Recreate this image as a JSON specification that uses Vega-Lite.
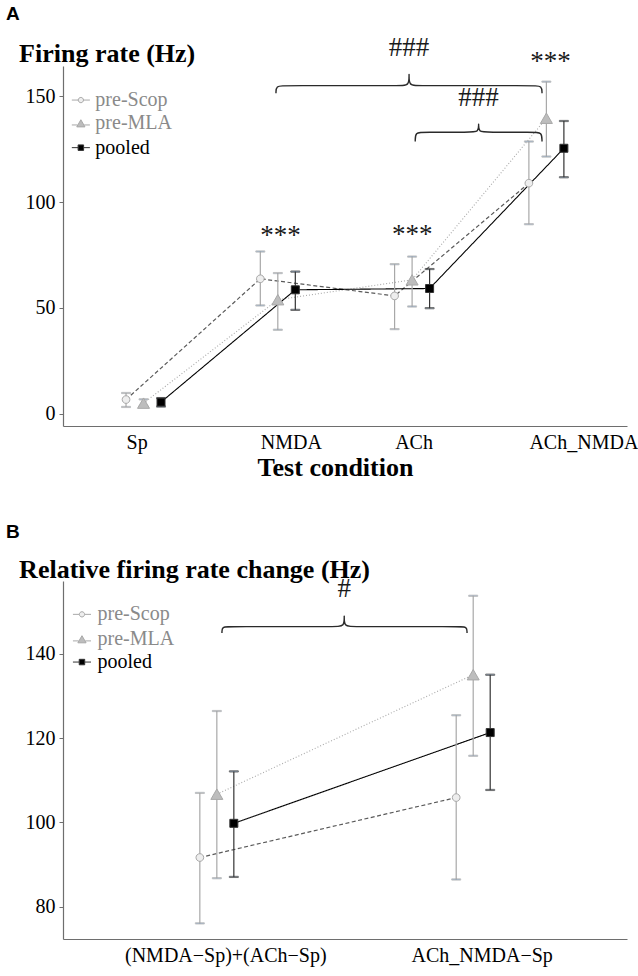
{
  "$schema": "https://vega.github.io/schema/vega-lite/v6.json",
  "background": "white",
  "padding": {"left": 6, "top": 5, "right": 5, "bottom": 5},
  "spacing": 42,
  "resolve": {
    "scale": {"xOffset": "independent", "shape": "independent", "fill": "independent", "stroke": "independent", "color": "independent", "strokeDash": "independent", "strokeWidth": "independent"}
  },
  "config": {
    "font": "Liberation Serif",
    "view": {"stroke": null},
    "axis": {
      "grid": false,
      "domainColor": "#6e6e6e",
      "domainWidth": 1.2,
      "tickColor": "#6e6e6e",
      "tickSize": 4,
      "labelFont": "Liberation Serif",
      "labelFontSize": 20,
      "labelColor": "#000000",
      "labelLimit": 0,
      "titleFont": "Liberation Serif",
      "titleFontSize": 26,
      "titleFontWeight": "bold",
      "titleColor": "#000000"
    },
    "title": {"font": "Liberation Sans", "fontSize": 19, "fontWeight": "bold", "color": "#000000", "anchor": "start", "frame": "group"}
  },
  "vconcat": [
    {
      "width": 564,
      "height": 360,
      "title": {"text": "A", "dx": -57, "offset": 10},
      "resolve": {"scale": {"x": "independent", "shape": "independent"}},
      "layer": [
        {
          "data": {"values": [
            {"cond": "Sp", "series": "pre-Scop", "m": 6.7, "lo": 3.2, "hi": 9.8},
            {"cond": "Sp", "series": "pre-MLA", "m": 5.0, "lo": 3.5, "hi": 6.8},
            {"cond": "Sp", "series": "pooled", "m": 5.5, "lo": 3.4, "hi": 7.4},
            {"cond": "NMDA", "series": "pre-Scop", "m": 63.8, "lo": 51.2, "hi": 76.7},
            {"cond": "NMDA", "series": "pre-MLA", "m": 53.9, "lo": 39.7, "hi": 66.5},
            {"cond": "NMDA", "series": "pooled", "m": 58.6, "lo": 49.1, "hi": 67.2},
            {"cond": "ACh", "series": "pre-Scop", "m": 55.7, "lo": 40.0, "hi": 70.7},
            {"cond": "ACh", "series": "pre-MLA", "m": 63.3, "lo": 50.7, "hi": 74.3},
            {"cond": "ACh", "series": "pooled", "m": 59.2, "lo": 49.9, "hi": 68.4},
            {"cond": "ACh_NMDA", "series": "pre-Scop", "m": 109.0, "lo": 89.6, "hi": 128.7},
            {"cond": "ACh_NMDA", "series": "pre-MLA", "m": 139.7, "lo": 121.6, "hi": 157.0},
            {"cond": "ACh_NMDA", "series": "pooled", "m": 125.5, "lo": 111.8, "hi": 138.4}
          ]},
          "encoding": {
            "x": {
              "field": "cond", "type": "nominal",
              "sort": ["Sp", "NMDA", "ACh", "ACh_NMDA"],
              "scale": {"type": "band", "paddingInner": 0, "paddingOuter": 0.1},
              "axis": {"title": "Test condition", "ticks": false, "labelAngle": 0, "labelAlign": "left", "labelOffset": -17, "labelPadding": 6, "titlePadding": 2, "titleX": 272, "titleAlign": "center"}
            },
            "xOffset": {
              "field": "series", "type": "nominal",
              "sort": ["pre-Scop", "pre-MLA", "pooled"],
              "scale": {"type": "point", "range": [49.6, 84.6], "padding": 0}
            }
          },
          "layer": [
            {
              "mark": {"type": "line"},
              "encoding": {
                "y": {
                  "field": "m", "type": "quantitative",
                  "scale": {"domain": [-5.8, 164.4], "nice": false, "zero": false},
                  "axis": {"values": [0, 50, 100, 150], "title": "Firing rate (Hz)", "titleAngle": 0, "titleAlign": "left", "titleBaseline": "alphabetic", "titleX": -44.4, "titleY": -4.4, "labelPadding": 4}
                },
                "color": {"field": "series", "type": "nominal", "scale": {"domain": ["pre-Scop", "pre-MLA", "pooled"], "range": ["#5a5a5a", "#ababab", "#000000"]}, "legend": null},
                "strokeDash": {"field": "series", "type": "nominal", "scale": {"domain": ["pre-Scop", "pre-MLA", "pooled"], "range": [[4, 2.5], [1, 2], [1, 0]]}, "legend": null},
                "strokeWidth": {"field": "series", "type": "nominal", "scale": {"domain": ["pre-Scop", "pre-MLA", "pooled"], "range": [1.2, 1.1, 1.6]}, "legend": null}
              }
            },
            {
              "mark": {"type": "rule", "strokeWidth": 1.2},
              "encoding": {
                "y": {"field": "lo", "type": "quantitative", "scale": {"domain": [-5.8, 164.4], "nice": false, "zero": false}},
                "y2": {"field": "hi"},
                "stroke": {"field": "series", "type": "nominal", "scale": {"domain": ["pre-Scop", "pre-MLA", "pooled"], "range": ["#a8a8a8", "#a8a8a8", "#333333"]}, "legend": null}
              }
            },
            {
              "mark": {"type": "tick", "size": 9, "thickness": 1.2},
              "encoding": {
                "y": {"field": "lo", "type": "quantitative", "scale": {"domain": [-5.8, 164.4], "nice": false, "zero": false}},
                "stroke": {"field": "series", "type": "nominal", "legend": null}
              }
            },
            {
              "mark": {"type": "tick", "size": 9, "thickness": 1.2},
              "encoding": {
                "y": {"field": "hi", "type": "quantitative", "scale": {"domain": [-5.8, 164.4], "nice": false, "zero": false}},
                "stroke": {"field": "series", "type": "nominal", "legend": null}
              }
            },
            {
              "mark": {"type": "point", "filled": false, "opacity": 1, "strokeWidth": 1, "size": 64},
              "encoding": {
                "y": {"field": "m", "type": "quantitative", "scale": {"domain": [-5.8, 164.4], "nice": false, "zero": false}},
                "shape": {"field": "series", "type": "nominal", "legend": null,
                  "scale": {"domain": ["pre-Scop", "pre-MLA", "pooled"], "range": ["M-0.96,0A0.96,0.96 0 1,0 0.96,0A0.96,0.96 0 1,0 -0.96,0Z", "M0,-1.3L1.5,1.3L-1.5,1.3Z", "M-1,-1L1,-1L1,1L-1,1Z"]}},
                "fill": {"field": "series", "type": "nominal", "legend": null, "scale": {"domain": ["pre-Scop", "pre-MLA", "pooled"], "range": ["#eeeeee", "#bdbdbd", "#000000"]}},
                "stroke": {"field": "series", "type": "nominal", "legend": null}
              }
            }
          ]
        },
        {
          "layer": [
            {
              "data": {"values": [
                {"brace": "big", "ord": 1, "bx": 1.986, "by": 151.5},
                {"brace": "big", "ord": 2, "bx": 1.986, "by": 155.1},
                {"brace": "big", "ord": 3, "bx": 2.05, "by": 155.1},
                {"brace": "big", "ord": 4, "bx": 2.915, "by": 155.1},
                {"brace": "big", "ord": 5, "bx": 2.977, "by": 155.1},
                {"brace": "big", "ord": 6, "bx": 2.977, "by": 160.6},
                {"brace": "big", "ord": 7, "bx": 2.977, "by": 160.6},
                {"brace": "big", "ord": 8, "bx": 2.977, "by": 155.1},
                {"brace": "big", "ord": 9, "bx": 3.04, "by": 155.1},
                {"brace": "big", "ord": 10, "bx": 3.905, "by": 155.1},
                {"brace": "big", "ord": 11, "bx": 3.967, "by": 155.1},
                {"brace": "big", "ord": 12, "bx": 3.967, "by": 151.5},
                {"brace": "small", "ord": 1, "bx": 3.023, "by": 128.7},
                {"brace": "small", "ord": 2, "bx": 3.023, "by": 133.1},
                {"brace": "small", "ord": 3, "bx": 3.085, "by": 133.1},
                {"brace": "small", "ord": 4, "bx": 3.435, "by": 133.1},
                {"brace": "small", "ord": 5, "bx": 3.495, "by": 133.1},
                {"brace": "small", "ord": 6, "bx": 3.495, "by": 137.0},
                {"brace": "small", "ord": 7, "bx": 3.495, "by": 137.0},
                {"brace": "small", "ord": 8, "bx": 3.495, "by": 133.1},
                {"brace": "small", "ord": 9, "bx": 3.555, "by": 133.1},
                {"brace": "small", "ord": 10, "bx": 3.905, "by": 133.1},
                {"brace": "small", "ord": 11, "bx": 3.967, "by": 133.1},
                {"brace": "small", "ord": 12, "bx": 3.967, "by": 128.7}
              ]},
              "mark": {"type": "line", "interpolate": "basis", "color": "#2a2a2a", "strokeWidth": 1.4},
              "encoding": {
                "x": {"field": "bx", "type": "quantitative", "scale": {"domain": [0.4, 4.6], "nice": false, "zero": false}, "axis": null},
                "y": {"field": "by", "type": "quantitative", "scale": {"domain": [-5.8, 164.4], "nice": false, "zero": false}},
                "detail": {"field": "brace"},
                "order": {"field": "ord", "type": "quantitative"}
              }
            },
            {
              "data": {"values": [
                {"label": "###", "bx": 2.977, "by": 172.7},
                {"label": "###", "bx": 3.495, "by": 149.1},
                {"label": "***", "bx": 2.02, "by": 84.1},
                {"label": "***", "bx": 3.0, "by": 84.6},
                {"label": "***", "bx": 4.03, "by": 166.5}
              ]},
              "mark": {"type": "text", "font": "Liberation Serif", "fontSize": 27, "baseline": "middle", "align": "center", "color": "#1a1a1a"},
              "encoding": {
                "x": {"field": "bx", "type": "quantitative", "scale": {"domain": [0.4, 4.6], "nice": false, "zero": false}, "axis": null},
                "y": {"field": "by", "type": "quantitative", "scale": {"domain": [-5.8, 164.4], "nice": false, "zero": false}},
                "text": {"field": "label"}
              }
            },
            {
              "data": {"values": [
                {"series": "pre-Scop", "lx": 0.533, "ly": 148.3},
                {"series": "pre-MLA", "lx": 0.533, "ly": 137.3},
                {"series": "pooled", "lx": 0.533, "ly": 125.8}
              ]},
              "layer": [
                {
                  "mark": {"type": "point", "filled": false, "opacity": 1, "strokeWidth": 1, "size": 30},
                  "encoding": {
                    "x": {"field": "lx", "type": "quantitative", "scale": {"domain": [0.4, 4.6], "nice": false, "zero": false}, "axis": null},
                    "y": {"field": "ly", "type": "quantitative", "scale": {"domain": [-5.8, 164.4], "nice": false, "zero": false}},
                    "shape": {"field": "series", "type": "nominal", "legend": null,
                      "scale": {"domain": ["pre-Scop", "pre-MLA", "pooled"], "range": ["M-3.3,0H-1M1,0H3.3M-0.96,0A0.96,0.96 0 1,0 0.96,0A0.96,0.96 0 1,0 -0.96,0Z", "M-3.3,0.6H-1.2M1.2,0.6H3.3M0,-1.3L1.5,1.3L-1.5,1.3Z", "M-3.3,0H-1M1,0H3.3M-1,-1L1,-1L1,1L-1,1Z"]}},
                    "fill": {"field": "series", "type": "nominal", "legend": null},
                    "stroke": {"field": "series", "type": "nominal", "legend": null}
                  }
                },
                {
                  "mark": {"type": "text", "font": "Liberation Serif", "fontSize": 20, "baseline": "middle", "align": "left", "dx": 14.5},
                  "encoding": {
                    "x": {"field": "lx", "type": "quantitative", "scale": {"domain": [0.4, 4.6], "nice": false, "zero": false}, "axis": null},
                    "y": {"field": "ly", "type": "quantitative", "scale": {"domain": [-5.8, 164.4], "nice": false, "zero": false}},
                    "text": {"field": "series"},
                    "color": {"condition": {"test": "datum.series === 'pooled'", "value": "#000000"}, "value": "#8a8a8a"}
                  }
                }
              ]
            }
          ]
        }
      ]
    },
    {
      "width": 564,
      "height": 358,
      "title": {"text": "B", "dx": -57, "offset": 15},
      "resolve": {"scale": {"x": "independent", "shape": "independent"}},
      "layer": [
        {
          "data": {"values": [
            {"cond": "(NMDA−Sp)+(ACh−Sp)", "series": "pre-Scop", "m": 91.7, "lo": 76.1, "hi": 107.0},
            {"cond": "(NMDA−Sp)+(ACh−Sp)", "series": "pre-MLA", "m": 106.7, "lo": 86.8, "hi": 126.4},
            {"cond": "(NMDA−Sp)+(ACh−Sp)", "series": "pooled", "m": 99.8, "lo": 87.1, "hi": 112.1},
            {"cond": "ACh_NMDA−Sp", "series": "pre-Scop", "m": 105.9, "lo": 86.5, "hi": 125.4},
            {"cond": "ACh_NMDA−Sp", "series": "pre-MLA", "m": 135.0, "lo": 115.8, "hi": 153.7},
            {"cond": "ACh_NMDA−Sp", "series": "pooled", "m": 121.3, "lo": 107.7, "hi": 135.0}
          ]},
          "encoding": {
            "x": {
              "field": "cond", "type": "nominal",
              "sort": ["(NMDA−Sp)+(ACh−Sp)", "ACh_NMDA−Sp"],
              "scale": {"type": "band", "paddingInner": 0, "paddingOuter": 0.1},
              "axis": {"title": null, "ticks": false, "labelAngle": 0, "labelAlign": "center", "labelOffset": 9, "labelPadding": 6}
            },
            "xOffset": {
              "field": "series", "type": "nominal",
              "sort": ["pre-Scop", "pre-MLA", "pooled"],
              "scale": {"type": "point", "range": [111.2, 145.2], "padding": 0}
            }
          },
          "layer": [
            {
              "mark": {"type": "line"},
              "encoding": {
                "y": {
                  "field": "m", "type": "quantitative",
                  "scale": {"domain": [72.4, 157.2], "nice": false, "zero": false},
                  "axis": {"values": [80, 100, 120, 140], "title": "Relative firing rate change (Hz)", "titleAngle": 0, "titleAlign": "left", "titleBaseline": "alphabetic", "titleX": -44.4, "titleY": -3.5, "labelPadding": 4}
                },
                "color": {"field": "series", "type": "nominal", "scale": {"domain": ["pre-Scop", "pre-MLA", "pooled"], "range": ["#5a5a5a", "#ababab", "#000000"]}, "legend": null},
                "strokeDash": {"field": "series", "type": "nominal", "scale": {"domain": ["pre-Scop", "pre-MLA", "pooled"], "range": [[4, 2.5], [1, 2], [1, 0]]}, "legend": null},
                "strokeWidth": {"field": "series", "type": "nominal", "scale": {"domain": ["pre-Scop", "pre-MLA", "pooled"], "range": [1.2, 1.1, 1.6]}, "legend": null}
              }
            },
            {
              "mark": {"type": "rule", "strokeWidth": 1.2},
              "encoding": {
                "y": {"field": "lo", "type": "quantitative", "scale": {"domain": [72.4, 157.2], "nice": false, "zero": false}},
                "y2": {"field": "hi"},
                "stroke": {"field": "series", "type": "nominal", "scale": {"domain": ["pre-Scop", "pre-MLA", "pooled"], "range": ["#a8a8a8", "#a8a8a8", "#333333"]}, "legend": null}
              }
            },
            {
              "mark": {"type": "tick", "size": 9, "thickness": 1.2},
              "encoding": {
                "y": {"field": "lo", "type": "quantitative", "scale": {"domain": [72.4, 157.2], "nice": false, "zero": false}},
                "stroke": {"field": "series", "type": "nominal", "legend": null}
              }
            },
            {
              "mark": {"type": "tick", "size": 9, "thickness": 1.2},
              "encoding": {
                "y": {"field": "hi", "type": "quantitative", "scale": {"domain": [72.4, 157.2], "nice": false, "zero": false}},
                "stroke": {"field": "series", "type": "nominal", "legend": null}
              }
            },
            {
              "mark": {"type": "point", "filled": false, "opacity": 1, "strokeWidth": 1, "size": 64},
              "encoding": {
                "y": {"field": "m", "type": "quantitative", "scale": {"domain": [72.4, 157.2], "nice": false, "zero": false}},
                "shape": {"field": "series", "type": "nominal", "legend": null,
                  "scale": {"domain": ["pre-Scop", "pre-MLA", "pooled"], "range": ["M-0.96,0A0.96,0.96 0 1,0 0.96,0A0.96,0.96 0 1,0 -0.96,0Z", "M0,-1.3L1.5,1.3L-1.5,1.3Z", "M-1,-1L1,-1L1,1L-1,1Z"]}},
                "fill": {"field": "series", "type": "nominal", "legend": null, "scale": {"domain": ["pre-Scop", "pre-MLA", "pooled"], "range": ["#eeeeee", "#bdbdbd", "#000000"]}},
                "stroke": {"field": "series", "type": "nominal", "legend": null}
              }
            }
          ]
        },
        {
          "layer": [
            {
              "data": {"values": [
                {"brace": "b", "ord": 1, "bx": 1.02, "by": 144.9},
                {"brace": "b", "ord": 2, "bx": 1.02, "by": 146.4},
                {"brace": "b", "ord": 3, "bx": 1.051, "by": 146.4},
                {"brace": "b", "ord": 4, "bx": 1.466, "by": 146.4},
                {"brace": "b", "ord": 5, "bx": 1.497, "by": 146.4},
                {"brace": "b", "ord": 6, "bx": 1.497, "by": 149.0},
                {"brace": "b", "ord": 7, "bx": 1.497, "by": 149.0},
                {"brace": "b", "ord": 8, "bx": 1.497, "by": 146.4},
                {"brace": "b", "ord": 9, "bx": 1.528, "by": 146.4},
                {"brace": "b", "ord": 10, "bx": 1.945, "by": 146.4},
                {"brace": "b", "ord": 11, "bx": 1.976, "by": 146.4},
                {"brace": "b", "ord": 12, "bx": 1.976, "by": 144.9}
              ]},
              "mark": {"type": "line", "interpolate": "basis", "color": "#2a2a2a", "strokeWidth": 1.4},
              "encoding": {
                "x": {"field": "bx", "type": "quantitative", "scale": {"domain": [0.4, 2.6], "nice": false, "zero": false}, "axis": null},
                "y": {"field": "by", "type": "quantitative", "scale": {"domain": [72.4, 157.2], "nice": false, "zero": false}},
                "detail": {"field": "brace"},
                "order": {"field": "ord", "type": "quantitative"}
              }
            },
            {
              "data": {"values": [
                {"label": "#", "bx": 1.497, "by": 155.3}
              ]},
              "mark": {"type": "text", "font": "Liberation Serif", "fontSize": 27, "baseline": "middle", "align": "center", "color": "#1a1a1a"},
              "encoding": {
                "x": {"field": "bx", "type": "quantitative", "scale": {"domain": [0.4, 2.6], "nice": false, "zero": false}, "axis": null},
                "y": {"field": "by", "type": "quantitative", "scale": {"domain": [72.4, 157.2], "nice": false, "zero": false}},
                "text": {"field": "label"}
              }
            },
            {
              "data": {"values": [
                {"series": "pre-Scop", "lx": 0.474, "ly": 149.3},
                {"series": "pre-MLA", "lx": 0.474, "ly": 143.4},
                {"series": "pooled", "lx": 0.474, "ly": 138.0}
              ]},
              "layer": [
                {
                  "mark": {"type": "point", "filled": false, "opacity": 1, "strokeWidth": 1, "size": 30},
                  "encoding": {
                    "x": {"field": "lx", "type": "quantitative", "scale": {"domain": [0.4, 2.6], "nice": false, "zero": false}, "axis": null},
                    "y": {"field": "ly", "type": "quantitative", "scale": {"domain": [72.4, 157.2], "nice": false, "zero": false}},
                    "shape": {"field": "series", "type": "nominal", "legend": null,
                      "scale": {"domain": ["pre-Scop", "pre-MLA", "pooled"], "range": ["M-3.3,0H-1M1,0H3.3M-0.96,0A0.96,0.96 0 1,0 0.96,0A0.96,0.96 0 1,0 -0.96,0Z", "M-3.3,0.6H-1.2M1.2,0.6H3.3M0,-1.3L1.5,1.3L-1.5,1.3Z", "M-3.3,0H-1M1,0H3.3M-1,-1L1,-1L1,1L-1,1Z"]}},
                    "fill": {"field": "series", "type": "nominal", "legend": null},
                    "stroke": {"field": "series", "type": "nominal", "legend": null}
                  }
                },
                {
                  "mark": {"type": "text", "font": "Liberation Serif", "fontSize": 20, "baseline": "middle", "align": "left", "dx": 15.5},
                  "encoding": {
                    "x": {"field": "lx", "type": "quantitative", "scale": {"domain": [0.4, 2.6], "nice": false, "zero": false}, "axis": null},
                    "y": {"field": "ly", "type": "quantitative", "scale": {"domain": [72.4, 157.2], "nice": false, "zero": false}},
                    "text": {"field": "series"},
                    "color": {"condition": {"test": "datum.series === 'pooled'", "value": "#000000"}, "value": "#8a8a8a"}
                  }
                }
              ]
            }
          ]
        }
      ]
    }
  ]
}
